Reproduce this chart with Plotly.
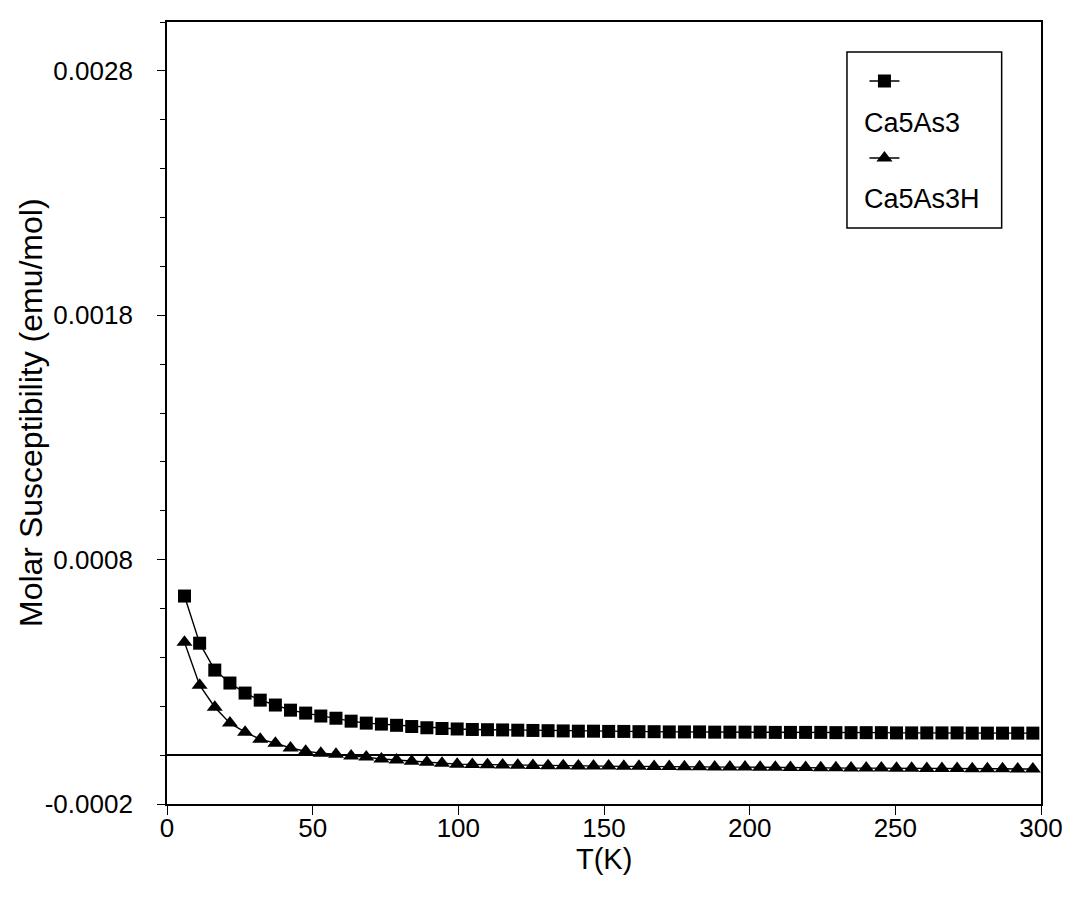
import plotly.graph_objects as go

# Temperature (K) and molar susceptibility (emu/mol) for both samples
temperature = [6.0, 11.2, 16.4, 21.6, 26.8, 32.0, 37.2, 42.4, 47.6, 52.8,
               58.0, 63.2, 68.4, 73.6, 78.8, 84.0, 89.2, 94.4, 99.6, 104.8,
               110.0, 115.2, 120.4, 125.6, 130.8, 136.0, 141.2, 146.4, 151.6, 156.8,
               162.0, 167.2, 172.4, 177.6, 182.8, 188.0, 193.2, 198.4, 203.6, 208.8,
               214.0, 219.2, 224.4, 229.6, 234.8, 240.0, 245.2, 250.4, 255.6, 260.8,
               266.0, 271.2, 276.4, 281.6, 286.8, 292.0, 297.2]

chi_ca5as3 = [0.000651, 0.000458, 0.000348, 0.000295, 0.000254, 0.000225, 0.000205, 0.000184, 0.000172, 0.000160,
              0.000151, 0.000139, 0.000131, 0.000127, 0.000122, 0.000117, 0.000112, 0.000109, 0.000107, 0.000105,
              0.000104, 0.000103, 0.000102, 0.000101, 0.000100, 0.000099, 0.000098, 0.000098, 0.000097, 0.000097,
              0.000096, 0.000096, 0.000095, 0.000095, 0.000095, 0.000094, 0.000094, 0.000094, 0.000094, 0.000093,
              0.000093, 0.000093, 0.000093, 0.000092, 0.000092, 0.000092, 0.000092, 0.000091, 0.000091, 0.000091,
              0.000091, 0.000091, 0.000090, 0.000090, 0.000090, 0.000090, 0.000090]

chi_ca5as3h = [0.000462, 0.000286, 0.000196, 0.000131, 0.000094, 0.000065, 0.000049, 0.000029, 0.000016, 0.000008,
               0.000004, -0.000004, -0.000008, -0.000016, -0.000020, -0.000025, -0.000029, -0.000033, -0.000037, -0.000038,
               -0.000039, -0.000040, -0.000041, -0.000042, -0.000043, -0.000043, -0.000044, -0.000045, -0.000045, -0.000046,
               -0.000046, -0.000047, -0.000047, -0.000048, -0.000048, -0.000049, -0.000049, -0.000049, -0.000050, -0.000050,
               -0.000051, -0.000051, -0.000052, -0.000052, -0.000053, -0.000053, -0.000053, -0.000054, -0.000054, -0.000055,
               -0.000055, -0.000055, -0.000056, -0.000056, -0.000056, -0.000057, -0.000057]

series_names = ["Ca5As3", "Ca5As3H"]
y_tick_values = [-0.0002, 0.0008, 0.0018, 0.0028]
y_tick_labels = ["-0.0002", "0.0008", "0.0018", "0.0028"]
x_tick_values = [0, 50, 100, 150, 200, 250, 300]
x_title = "T(K)"
y_title = "Molar Susceptibility (emu/mol)"

FONT = "Liberation Sans, Arial, sans-serif"

fig = go.Figure()
fig.add_trace(go.Scatter(
    x=temperature, y=chi_ca5as3, mode="lines+markers", name="",
    line=dict(color="black", width=1.4),
    marker=dict(symbol="square", size=13, color="black"),
    legend="legend", showlegend=True,
))
fig.add_trace(go.Scatter(
    x=temperature, y=chi_ca5as3h, mode="lines+markers", name="",
    line=dict(color="black", width=1.4),
    marker=dict(symbol="triangle-up", size=14, color="black"),
    legend="legend2", showlegend=True,
))

# legend frame and series labels placed under each symbol
fig.add_shape(type="rect", xref="paper", yref="paper",
              x0=0.778, x1=0.955, y0=0.7366, y1=0.9616,
              line=dict(color="black", width=1.5))
for label, ypos in zip(series_names, [0.8708, 0.7737]):
    fig.add_annotation(text=label, xref="paper", yref="paper", x=0.7952, y=ypos,
                       xanchor="left", yanchor="middle", showarrow=False,
                       font=dict(family=FONT, size=27, color="black"))

# axis titles
fig.add_annotation(text=x_title, xref="paper", yref="paper", x=0.5, y=-0.0700,
                   xanchor="center", yanchor="middle", showarrow=False,
                   font=dict(family=FONT, size=29, color="black"))
fig.add_annotation(text=y_title, xref="paper", yref="paper", x=-0.1556, y=0.5,
                   xanchor="center", yanchor="middle", textangle=-90, showarrow=False,
                   font=dict(family=FONT, size=32, color="black"))

legend_common = dict(bgcolor="rgba(0,0,0,0)", borderwidth=0, xanchor="left",
                     yanchor="middle", font=dict(family=FONT, size=20, color="black"))

fig.update_layout(
    width=1067, height=902,
    margin=dict(l=167, r=26, t=22, b=98, autoexpand=False),
    paper_bgcolor="white", plot_bgcolor="white",
    font=dict(family=FONT, color="black"),
    legend=dict(x=0.798, y=0.9246, **legend_common),
    legend2=dict(x=0.798, y=0.826, **legend_common),
    xaxis=dict(
        range=[0, 300], tickvals=x_tick_values, ticks="outside", ticklen=9,
        tickwidth=1.3, tickcolor="black", showgrid=False, zeroline=False,
        showline=True, linecolor="black", linewidth=1.8, mirror=True,
        tickfont=dict(size=26), ticklabelstandoff=-9,
    ),
    yaxis=dict(
        range=[-0.0002, 0.0030], tickvals=y_tick_values, ticktext=y_tick_labels,
        ticks="outside", ticklen=8, tickwidth=1.3, tickcolor="black",
        minor=dict(dtick=0.0002, tick0=-0.0002, ticks="outside", ticklen=5,
                   tickcolor="black", tickwidth=1, showgrid=False),
        showgrid=False, zeroline=True, zerolinecolor="black", zerolinewidth=1.5,
        showline=True, linecolor="black", linewidth=1.8, mirror=True,
        tickfont=dict(size=26), ticklabelstandoff=19,
    ),
)

fig.write_html("out.html")
